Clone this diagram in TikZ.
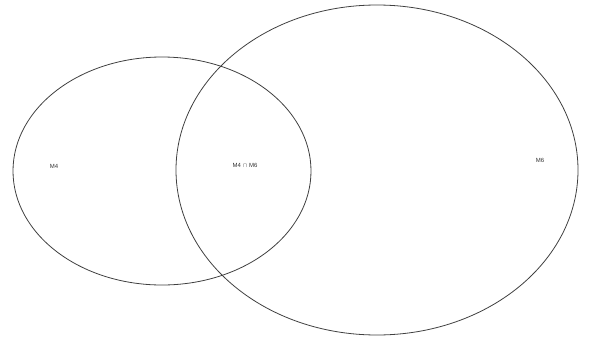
\documentclass[tikz,border=0pt]{standalone}
\usepackage{fontspec}
\setmainfont{Liberation Sans}
\begin{document}
\begin{tikzpicture}[x=1pt,y=-1pt,
  setline/.style={draw=black!75, line width=0.8pt},
  lbl/.style={font=\fontsize{6}{7}\selectfont, text=black!80, inner sep=0pt}]
\useasboundingbox (0,0) rectangle (593,337);
\draw[setline] (162,171) ellipse [x radius=149, y radius=114];
\draw[setline] (377,170) ellipse [x radius=201, y radius=165];
\node[lbl] (a) at (54,166) {M4};
\node[lbl] (b) at (245,165) {M4 $\cap$ M6};
\node[lbl] (c) at (540,160) {M6};
\end{tikzpicture}
\end{document}
